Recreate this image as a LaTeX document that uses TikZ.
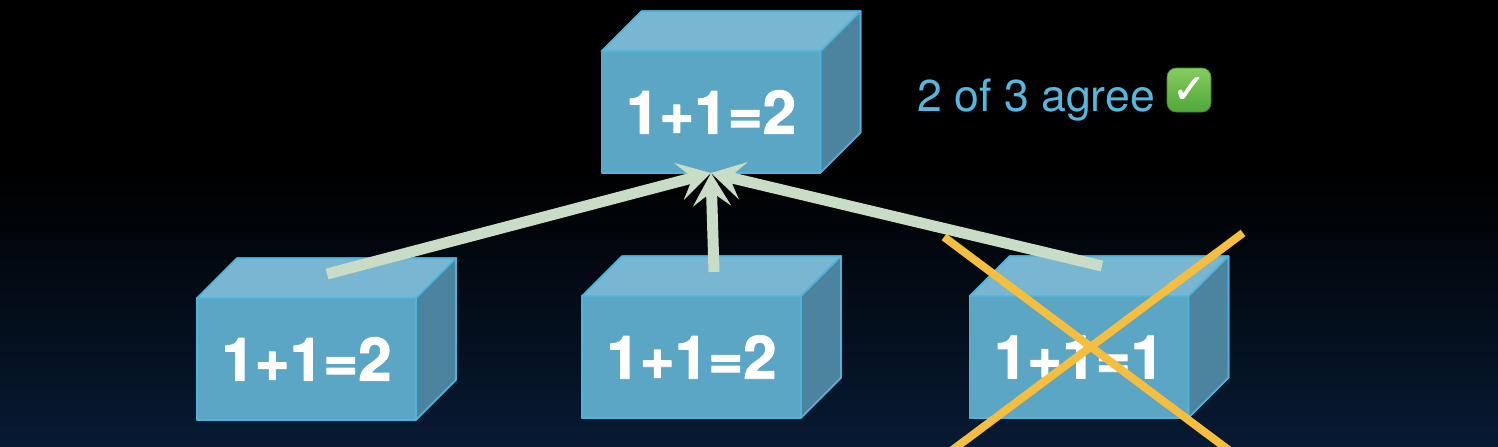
\documentclass[tikz,border=0pt]{standalone}
\usepackage{fontspec}
\setmainfont{TeX Gyre Heros}
\newfontfamily\boxfont[FakeBold=1.6]{TeX Gyre Heros Bold}
\newfontfamily\symfont[FakeBold=1.5]{DejaVu Sans}
\usetikzlibrary{arrows.meta,calc}
\definecolor{bgbottom}{HTML}{071A33}
\definecolor{frontc}{HTML}{5BA5C5}
\definecolor{topc}{HTML}{78B6D2}
\definecolor{sidec}{HTML}{4C839F}
\definecolor{edgec}{HTML}{4FB3DA}
\definecolor{arrowc}{HTML}{C9DCC5}
\definecolor{crossc}{HTML}{F6BE3E}
\definecolor{labelc}{HTML}{55B6DE}
\definecolor{emojitop}{HTML}{86CC5C}
\definecolor{emojibot}{HTML}{4FA73A}
\tikzset{
  frontface/.style={draw=edgec,fill=frontc,line width=0.8pt,line join=round,minimum width=109.5pt,minimum height=60.8pt,inner sep=0pt,outer sep=0pt,text=white,font=\boxfont\fontsize{30pt}{32pt}\selectfont},
  topface/.style={draw=edgec,fill=topc,line width=0.8pt,line join=round},
  sideface/.style={draw=edgec,fill=sidec,line width=0.8pt,line join=round},
  vote/.style={draw=arrowc,line width=5.5pt},
  votehead/.style={vote,-{Stealth[length=16.5pt,width=19pt,inset=7pt]}},
  crossline/.style={draw=crossc,line width=4pt},
  agree/.style={text=labelc,inner sep=0pt,font=\fontsize{22.3pt}{24pt}\selectfont},
  emojibox/.style={rounded corners=4.5pt,top color=emojitop,bottom color=emojibot,draw=emojibot!80!black,line width=0.3pt,minimum size=22pt,inner sep=0pt,text=white,font=\symfont\fontsize{20pt}{20pt}\selectfont},
}
\newcommand{\cubebox}[4]{%
  \node[frontface] (#1) at (#2,#3) {#4};
  \fill[topface] (#1.north west) -- ++(40,-40) -- ++(219,0) -- (#1.north east) -- cycle;
  \fill[sideface] (#1.north east) -- ++(40,-40) -- ++(0,121.6) -- (#1.south east) -- cycle;
  \draw[topface] (#1.north west) -- ++(40,-40) -- ++(219,0) -- (#1.north east) -- cycle;
  \draw[sideface] (#1.north east) -- ++(40,-40) -- ++(0,121.6) -- (#1.south east) -- cycle;
}
\begin{document}
\begin{tikzpicture}[x=0.5pt,y=-0.5pt]
\useasboundingbox (0,0) rectangle (1498,446);
\fill[black] (0,0) rectangle (1498,170);
\shade[top color=black,bottom color=bgbottom] (0,170) rectangle (1498,446);
\cubebox{result}{711}{112}{1+1=2}
\cubebox{left}{306.5}{359}{1+1=2}
\cubebox{mid}{691.5}{357}{1+1=2}
\cubebox{right}{1079}{357}{1+1=1}
\coordinate (apex) at (711,173);
\coordinate (leftstart) at (327,274);
\coordinate (midstart) at (714,272);
\coordinate (rightstart) at (1102,266);
\draw[votehead] (leftstart) -- (apex);
\draw[votehead] (midstart) -- (apex);
\draw[votehead] (rightstart) -- (apex);
\begin{scope}
\clip (0,0) rectangle (1498,446);
\coordinate (c1a) at (944,237);
\coordinate (c1b) at (1246,463);
\coordinate (c2a) at (1243,233);
\coordinate (c2b) at (935,463);
\draw[crossline] (c1a) -- (c1b);
\draw[crossline] (c2a) -- (c2b);
\end{scope}
\node[agree,anchor=west] (agreetext) at (917,100.5) {2 of 3 agree};
\node[emojibox] (emoji) at (1189,90) {✓};
\end{tikzpicture}
\end{document}
